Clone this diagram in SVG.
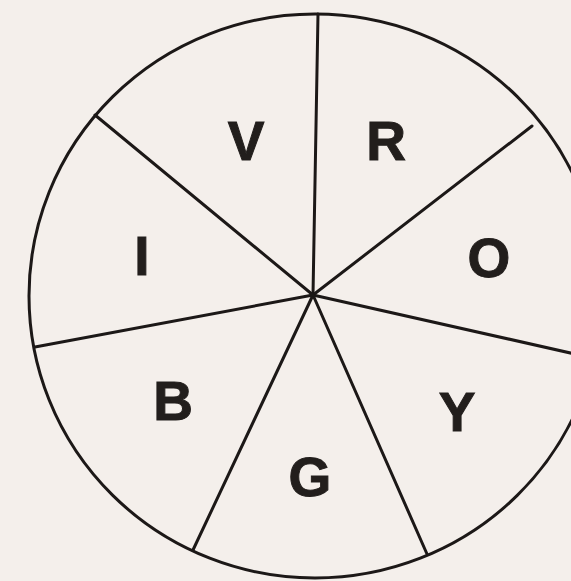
<svg xmlns="http://www.w3.org/2000/svg" width="571" height="581" viewBox="0 0 571 581">
<style>
.ln{stroke:#1c1817;stroke-width:3;fill:none;stroke-linecap:round}
.lt{font-family:"Liberation Sans",Arial,sans-serif;font-weight:bold;font-size:55px;fill:#221e1c;stroke:#221e1c;stroke-width:1;text-anchor:middle}
</style>
<rect width="571" height="581" fill="#f4efeb"/>
<g id="circle">
<ellipse cx="315" cy="296" rx="286" ry="282" fill="#efe9e5" class="ln"/>
</g>
<g id="spokes">
<line class="ln" x1="313" y1="295" x2="318" y2="14"/>
<line class="ln" x1="313" y1="295" x2="532" y2="126"/>
<line class="ln" x1="313" y1="295" x2="575" y2="354"/>
<line class="ln" x1="313" y1="295" x2="427" y2="554"/>
<line class="ln" x1="313" y1="295" x2="193" y2="550"/>
<line class="ln" x1="313" y1="295" x2="35" y2="347"/>
<line class="ln" x1="313" y1="295" x2="95" y2="115"/>
</g>
<g id="labels">
<text class="lt" x="246" y="160">V</text>
<text class="lt" x="386" y="160">R</text>
<text class="lt" x="489" y="277">O</text>
<text class="lt" x="142" y="275">I</text>
<text class="lt" x="173" y="420">B</text>
<text class="lt" x="457" y="431">Y</text>
<text class="lt" x="310" y="496">G</text>
</g>
</svg>
